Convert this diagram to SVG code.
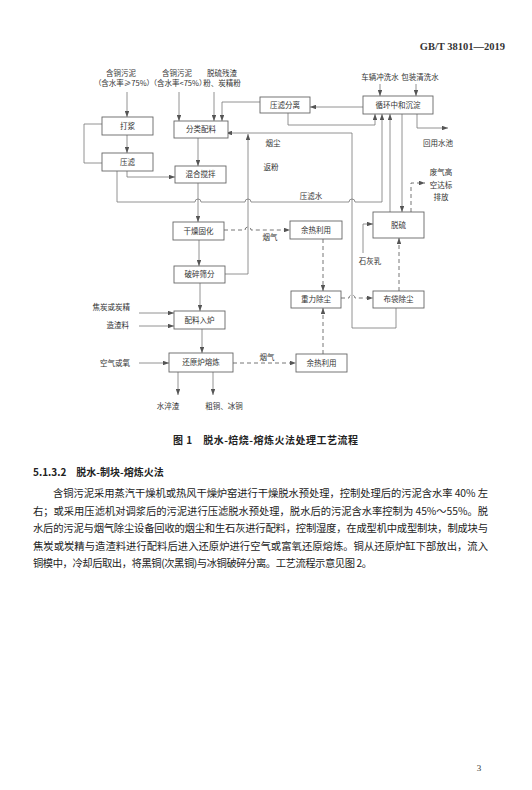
<svg xmlns="http://www.w3.org/2000/svg" width="532" height="790" viewBox="0 0 532 790">
<defs>
<marker id="ah" viewBox="0 0 8 6" refX="8" refY="3" markerWidth="6" markerHeight="4.5" orient="auto" markerUnits="userSpaceOnUse">
<path d="M0,0 L8,3 L0,6 Z" fill="#555"/>
</marker>
<style>
.box{fill:#fff;stroke:#666;stroke-width:0.9}
.ln{fill:none;stroke:#777;stroke-width:0.8}
.dl{fill:none;stroke:#666;stroke-width:0.9;stroke-dasharray:4,3}
.t{font-family:"Noto Sans CJK SC","Noto Sans",sans-serif;font-size:7.5px;fill:#333;text-anchor:middle}
.tl{font-family:"Noto Sans CJK SC","Noto Sans",sans-serif;font-size:7.5px;fill:#333;text-anchor:end}
.p{font-family:"Noto Sans CJK SC","Noto Sans",sans-serif;font-size:10.3px;fill:#222}
.h{font-family:"Noto Sans CJK SC","Noto Sans",sans-serif;font-size:10px;font-weight:bold;fill:#222}
</style>
</defs>
<rect width="532" height="790" fill="#fff"/>
<text x="505" y="50" font-family="Liberation Serif,serif" font-size="10.5" font-weight="bold" fill="#333" text-anchor="end">GB/T 38101—2019</text>

<g id="inputs">
<text class="t" x="121" y="76">含铜污泥</text>
<text class="t" x="124" y="86">（含水率≥75%）</text>
<text class="t" x="177" y="76">含铜污泥</text>
<text class="t" x="178" y="86">（含水率&lt;75%）</text>
<text class="t" x="222" y="76">脱硫残渣</text>
<text class="t" x="222" y="86">粉、炭精粉</text>
<text class="t" x="380" y="80">车辆冲洗水</text>
<text class="t" x="420" y="80">包装清洗水</text>
<text class="tl" x="130" y="310">焦炭或炭精</text>
<text class="tl" x="129" y="328">造渣料</text>
<text class="tl" x="130" y="366">空气或氧</text>
</g>

<g id="connectors">
<path class="ln" d="M127,92 V117" marker-end="url(#ah)"/>
<path class="ln" d="M179,92 V121" marker-end="url(#ah)"/>
<path class="ln" d="M214,92 V121" marker-end="url(#ah)"/>
<path class="ln" d="M127,135 V153" marker-end="url(#ah)"/>
<path class="ln" d="M102,124 H84 V163 H102"/>
<path class="ln" d="M127,171 V177 H175" marker-end="url(#ah)"/>
<path class="ln" d="M198,138 V166" marker-end="url(#ah)"/>
<path class="ln" d="M198,183 V222" marker-end="url(#ah)"/>
<path class="ln" d="M199,240 V266" marker-end="url(#ah)"/>
<path class="ln" d="M200,283 V311" marker-end="url(#ah)"/>
<path class="ln" d="M202,329 V353" marker-end="url(#ah)"/>
<path class="ln" d="M139,313 H174" marker-end="url(#ah)"/>
<path class="ln" d="M139,326 H174" marker-end="url(#ah)"/>
<path class="ln" d="M139,363 H169" marker-end="url(#ah)"/>
<path class="ln" d="M178,372 V395" marker-end="url(#ah)"/>
<path class="ln" d="M213,372 V395" marker-end="url(#ah)"/>
<path class="ln" d="M260,102 H222 V121" marker-end="url(#ah)"/>
<path class="ln" d="M363,107 H310" marker-end="url(#ah)"/>
<path class="ln" d="M288,113 V125 H375 V114" marker-end="url(#ah)"/>
<path class="ln" d="M117,171 V202 H195 a3,3 0 0 1 6,0 H245 a3,3 0 0 1 6,0 H349 a3,3 0 0 1 6,0 H382 V114" marker-end="url(#ah)"/>
<path class="ln" d="M225,274 H248 V134" marker-end="url(#ah)"/>
<path class="ln" d="M396,308 V328 H352 V133 H226" marker-end="url(#ah)"/>
<path class="ln" d="M390,212 V114" marker-end="url(#ah)"/>
<path class="ln" d="M402,114 V212" marker-end="url(#ah)"/>
<path class="ln" d="M417,114 V128 H448" marker-end="url(#ah)"/>
<path class="ln" d="M380,84 V96" marker-end="url(#ah)"/>
<path class="ln" d="M416,84 V96" marker-end="url(#ah)"/>
<path class="ln" d="M363,253 V224 H373" marker-end="url(#ah)"/>
<path class="dl" d="M224,230 H245 a3,3 0 0 1 6,0 H290" marker-end="url(#ah)"/>
<path class="dl" d="M323,239 V291" marker-end="url(#ah)"/>
<path class="dl" d="M323,354 V308" marker-end="url(#ah)"/>
<path class="dl" d="M341,298 H349 a3,3 0 0 1 6,0 H373" marker-end="url(#ah)"/>
<path class="dl" d="M399,291 V238" marker-end="url(#ah)"/>
<path class="dl" d="M411,212 V183 H425" marker-end="url(#ah)"/>
<path class="dl" d="M233,363 H296" marker-end="url(#ah)"/>
<text class="t" x="273" y="146">烟尘</text>
<text class="t" x="271" y="170">返粉</text>
<text class="t" x="311" y="199">压滤水</text>
<text class="t" x="270" y="240">烟气</text>
<text class="t" x="267" y="360">烟气</text>
<text class="t" x="370" y="264">石灰乳</text>
<text class="t" x="438" y="146">回用水池</text>
<text class="t" x="441" y="175">废气高</text>
<text class="t" x="441" y="188">空达标</text>
<text class="t" x="441" y="200">排放</text>
<text class="t" x="168" y="409">水淬渣</text>
<text class="t" x="224" y="409">粗铜、冰铜</text>
</g>

<g id="n-dajiang"><rect class="box" x="102" y="117" width="51" height="18"/><text class="t" x="127.5" y="128.5">打浆</text></g>
<g id="n-yalv"><rect class="box" x="102" y="153" width="51" height="18"/><text class="t" x="127.5" y="164.5">压滤</text></g>
<g id="n-fenlei"><rect class="box" x="174" y="121" width="54" height="17"/><text class="t" x="201" y="132">分类配料</text></g>
<g id="n-hunhe"><rect class="box" x="175" y="166" width="51" height="17"/><text class="t" x="200.5" y="177">混合搅拌</text></g>
<g id="n-ganzao"><rect class="box" x="173" y="222" width="51" height="18"/><text class="t" x="198.5" y="233.5">干燥固化</text></g>
<g id="n-posui"><rect class="box" x="174" y="266" width="51" height="17"/><text class="t" x="199.5" y="277">破碎筛分</text></g>
<g id="n-peiliao"><rect class="box" x="174" y="311" width="51" height="18"/><text class="t" x="199.5" y="322.5">配料入炉</text></g>
<g id="n-huanyuan"><rect class="box" x="169" y="353" width="64" height="19" stroke-width="1.3"/><text class="t" x="201" y="365">还原炉熔炼</text></g>
<g id="n-yalvfenli"><rect class="box" x="260" y="97" width="50" height="16"/><text class="t" x="285" y="107.5">压滤分离</text></g>
<g id="n-xunhuan"><rect class="box" x="363" y="96" width="70" height="18"/><text class="t" x="398" y="107.5">循环中和沉淀</text></g>
<g id="n-yure1"><rect class="box" x="290" y="221" width="52" height="18"/><text class="t" x="316" y="232.5">余热利用</text></g>
<g id="n-tuoliu"><rect class="box" x="373" y="212" width="51" height="26"/><text class="t" x="398.5" y="227.5">脱硫</text></g>
<g id="n-zhongli"><rect class="box" x="291" y="291" width="50" height="17"/><text class="t" x="316" y="302">重力除尘</text></g>
<g id="n-budai"><rect class="box" x="373" y="291" width="51" height="17"/><text class="t" x="398.5" y="302">布袋除尘</text></g>
<g id="n-yure2"><rect class="box" x="296" y="354" width="51" height="18"/><text class="t" x="321.5" y="365.5">余热利用</text></g>

<g id="text">
<text class="h" x="173" y="444" textLength="185" lengthAdjust="spacing">图 1　脱水-焙烧-熔炼火法处理工艺流程</text>
<text class="h" x="33" y="476">5.1.3.2　脱水-制块-熔炼火法</text>
<text class="p" x="53" y="497" textLength="435" lengthAdjust="spacing">含铜污泥采用蒸汽干燥机或热风干燥炉窑进行干燥脱水预处理，控制处理后的污泥含水率 40% 左</text>
<text class="p" x="33" y="515" textLength="455" lengthAdjust="spacing">右；或采用压滤机对调浆后的污泥进行压滤脱水预处理，脱水后的污泥含水率控制为 45%～55%。脱</text>
<text class="p" x="33" y="532" textLength="455" lengthAdjust="spacing">水后的污泥与烟气除尘设备回收的烟尘和生石灰进行配料，控制湿度，在成型机中成型制块，制成块与</text>
<text class="p" x="33" y="550" textLength="455" lengthAdjust="spacing">焦炭或炭精与造渣料进行配料后进入还原炉进行空气或富氧还原熔炼。铜从还原炉缸下部放出，流入</text>
<text class="p" x="33" y="567" textLength="339" lengthAdjust="spacing">铜模中，冷却后取出，将黑铜(次黑铜)与冰铜破碎分离。工艺流程示意见图 2。</text>
<text x="479" y="771" font-family="Liberation Serif,serif" font-size="9" fill="#333" text-anchor="middle">3</text>
</g>
</svg>
